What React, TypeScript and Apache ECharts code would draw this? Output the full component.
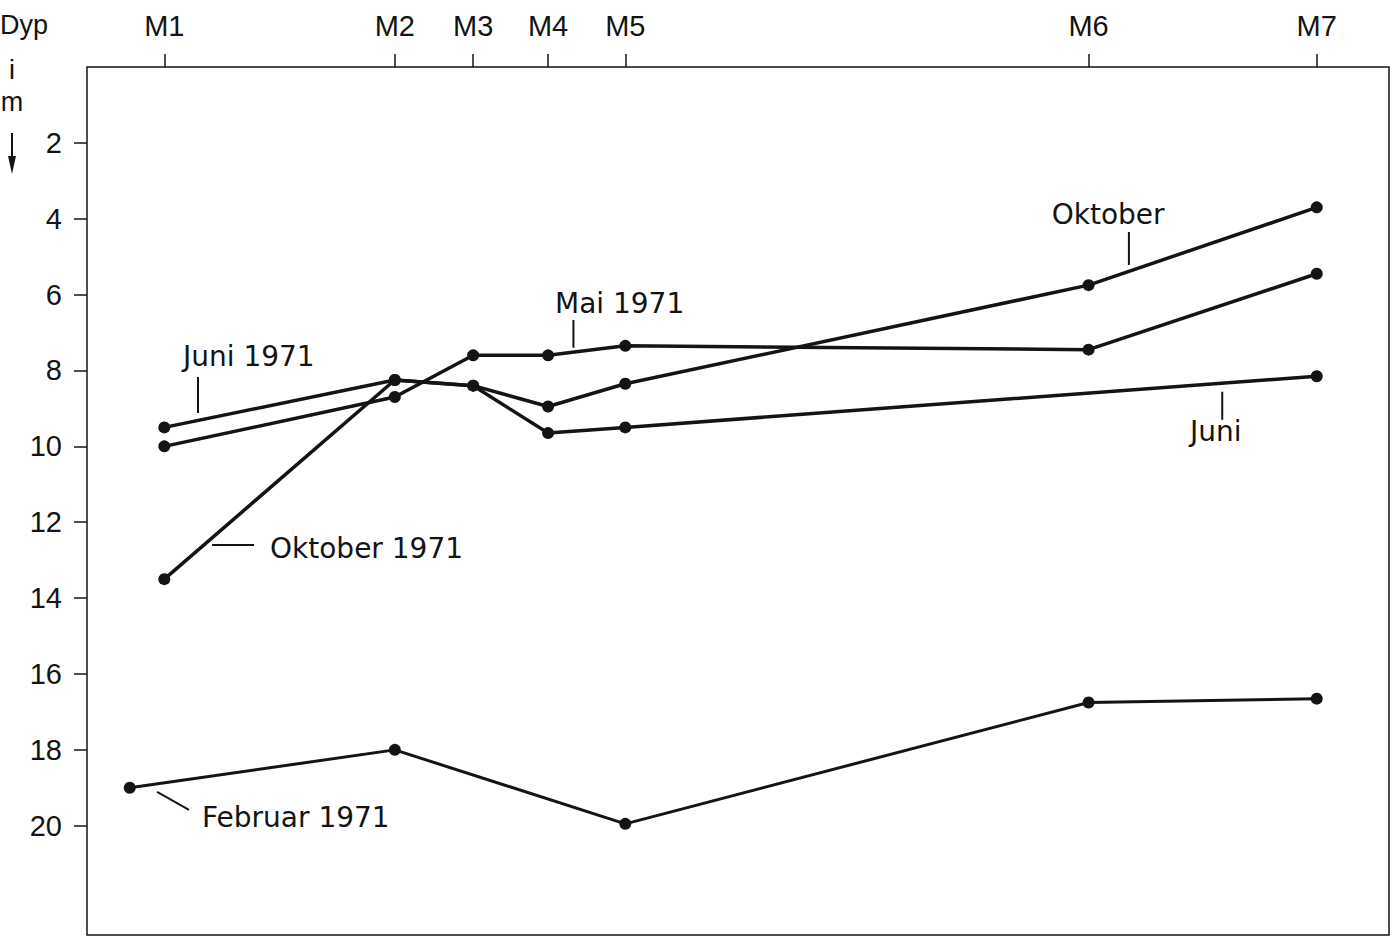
import React, { useEffect, useRef } from 'react';
import * as echarts from 'echarts';

// Stations along the top axis (distance units along the section)
const stationNames = ['M1', 'M2', 'M3', 'M4', 'M5', 'M6', 'M7'];
const stationDist = [0, 20, 26.8, 33.3, 40, 80.2, 100];
const depthTicks = [2, 4, 6, 8, 10, 12, 14, 16, 18, 20];

// Depth (m) of the line at each station, null = no observation
const juni1971 = [9.5, 8.25, 8.4, 9.65, 9.5, null, 8.15];
const mai1971 = [10.0, 8.7, 7.6, 7.6, 7.35, 7.45, 5.45];
const oktober1971 = [13.5, 8.25, 8.4, 8.95, 8.35, 5.75, 3.7];
const februar1971 = [null, 18.0, null, null, 19.95, 16.75, 16.65];
const februarStartDist = [-3];
const februarStartDepth = [19.0];

// Annotations: text anchor (left, middle) and leader line, in data coordinates
const annotations = [
  { text: 'Juni 1971', at: [1.62, 7.64], line: [[2.92, 8.17], [2.92, 9.12]] },
  { text: 'Oktober 1971', at: [9.17, 12.68], line: [[4.15, 12.6], [7.79, 12.6]] },
  { text: 'Mai 1971', at: [33.9, 6.24], line: [[35.5, 6.67], [35.5, 7.4]] },
  { text: 'Oktober', at: [77.0, 3.9], line: [[83.7, 4.35], [83.7, 5.22]] },
  { text: 'Juni', at: [89.0, 9.62], line: [[91.8, 8.56], [91.8, 9.3]] },
  { text: 'Februar 1971', at: [3.27, 19.79], line: [[-0.63, 19.11], [2.14, 19.58]] },
];

const INK = '#141414';

function pairs(depths: (number | null)[]): number[][] {
  const out: number[][] = [];
  depths.forEach((d, i) => {
    if (d != null) out.push([stationDist[i], d]);
  });
  return out;
}

function lineSeries(name: string, data: number[][], width: number) {
  return {
    name,
    type: 'line',
    data,
    symbol: 'circle',
    symbolSize: 12,
    itemStyle: { color: INK },
    lineStyle: { color: INK, width },
    emphasis: { disabled: true },
    z: 3,
  };
}

export default function App() {
  const ref = useRef<HTMLDivElement>(null);

  useEffect(() => {
    if (!ref.current) return;
    const chart = echarts.init(ref.current, undefined, { renderer: 'svg' });
    const labelFont = { fontFamily: 'Liberation Sans', fontSize: 29, color: INK };

    const februarData = [
      [februarStartDist[0], februarStartDepth[0]],
      ...pairs(februar1971),
    ];

    chart.setOption({
      animation: false,
      backgroundColor: '#ffffff',
      grid: {
        left: 87,
        right: 8,
        top: 67,
        bottom: 4,
        show: true,
        borderColor: INK,
        borderWidth: 1.5,
        backgroundColor: 'transparent',
      },
      xAxis: {
        type: 'value',
        position: 'top',
        min: -6.71,
        max: 106.27,
        axisLine: { show: false, onZero: false },
        splitLine: { show: false },
        axisTick: {
          show: true,
          inside: false,
          length: 13,
          customValues: stationDist,
          lineStyle: { color: INK, width: 1.5 },
        },
        axisLabel: {
          show: true,
          customValues: stationDist,
          margin: 27,
          ...labelFont,
          formatter: (v: number) => {
            const i = stationDist.findIndex((d) => Math.abs(d - v) < 1e-6);
            return i >= 0 ? stationNames[i] : '';
          },
        },
      },
      yAxis: {
        type: 'value',
        position: 'left',
        inverse: true,
        min: 0,
        max: 22.88,
        axisLine: { show: false, onZero: false },
        splitLine: { show: false },
        axisTick: {
          show: true,
          inside: false,
          length: 13,
          customValues: depthTicks,
          lineStyle: { color: INK, width: 1.5 },
        },
        axisLabel: {
          show: true,
          customValues: depthTicks,
          margin: 25,
          ...labelFont,
        },
      },
      series: [
        lineSeries('Juni 1971', pairs(juni1971), 3.5),
        lineSeries('Mai 1971', pairs(mai1971), 3.5),
        lineSeries('Oktober 1971', pairs(oktober1971), 3.5),
        lineSeries('Februar 1971', februarData, 3),
      ],
    });

    const toPx = (p: number[]) =>
      chart.convertToPixel({ gridIndex: 0 }, p) as number[];

    const graphics: any[] = [];
    annotations.forEach((a) => {
      const t = toPx(a.at);
      const p1 = toPx(a.line[0]);
      const p2 = toPx(a.line[1]);
      graphics.push({
        type: 'text',
        x: t[0],
        y: t[1],
        z: 10,
        style: {
          text: a.text,
          fill: INK,
          fontFamily: 'DejaVu Sans',
          fontSize: 28,
          align: 'left',
          verticalAlign: 'middle',
        },
      });
      graphics.push({
        type: 'line',
        z: 10,
        shape: { x1: p1[0], y1: p1[1], x2: p2[0], y2: p2[1] },
        style: { stroke: INK, lineWidth: 2 },
      });
    });

    // Axis title "Dyp i m" with a downward arrow
    const titleFont = { fill: INK, fontFamily: 'Liberation Sans', fontSize: 27 };
    graphics.push({
      type: 'text', x: 0, y: 38,
      style: { text: 'Dyp', ...titleFont, align: 'left', verticalAlign: 'bottom' },
    });
    graphics.push({
      type: 'text', x: 12, y: 83,
      style: { text: 'i', ...titleFont, align: 'center', verticalAlign: 'bottom' },
    });
    graphics.push({
      type: 'text', x: 12, y: 115,
      style: { text: 'm', ...titleFont, align: 'center', verticalAlign: 'bottom' },
    });
    graphics.push({
      type: 'line',
      shape: { x1: 12, y1: 133, x2: 12, y2: 165 },
      style: { stroke: INK, lineWidth: 2 },
    });
    graphics.push({
      type: 'polygon',
      shape: { points: [[8, 156], [16, 156], [12, 174]] },
      style: { fill: INK },
    });

    chart.setOption({ graphic: graphics });

    return () => chart.dispose();
  }, []);

  return (
    <div
      ref={ref}
      style={{
        position: 'fixed',
        left: 0,
        top: 0,
        width: 1397,
        height: 939,
        background: '#fff',
      }}
    />
  );
}
